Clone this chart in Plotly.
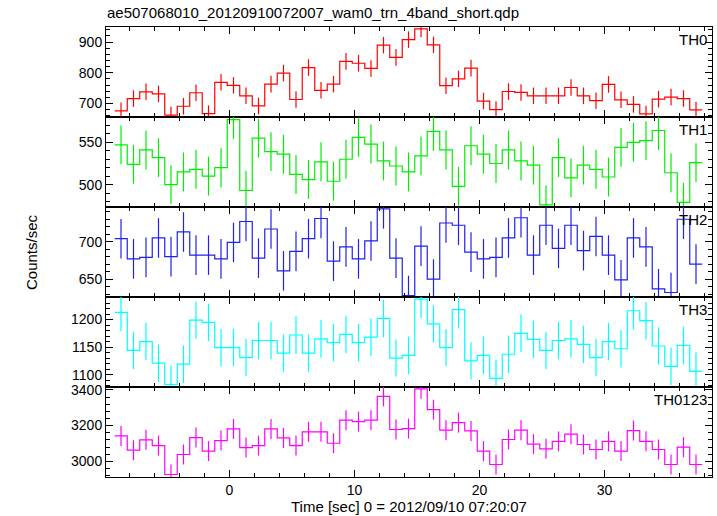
import plotly.graph_objects as go
from plotly.subplots import make_subplots

TITLE = "ae507068010_20120910072007_wam0_trn_4band_short.qdp"
X_TITLE = "Time [sec] 0 = 2012/09/10 07:20:07"
Y_TITLE = "Counts/sec"

BIN_START = -8.68   # centre of first bin [sec]
BIN_WIDTH = 1.0     # [sec]

BANDS = ["TH0", "TH1", "TH2", "TH3", "TH0123"]

TH0 = [676, 716, 738, 731, 662, 691, 735, 667, 769, 759, 725, 692, 763, 799, 713, 817,
       743, 763, 837, 831, 814, 890, 850, 908, 943, 891, 758, 780, 815, 708, 680, 739,
       736, 725, 725, 725, 752, 725, 709, 762, 712, 697, 666, 714, 721, 716, 679]
TH1 = [547, 524, 541, 532, 500, 515, 518, 510, 520, 577, 493, 555, 539, 536, 512, 506,
       527, 504, 530, 556, 548, 528, 522, 515, 534, 563, 541, 498, 546, 536, 525, 541,
       528, 523, 476, 532, 508, 523, 518, 509, 544, 550, 552, 564, 514, 479, 526]
TH2 = [704, 677, 679, 705, 680, 713, 682, 682, 677, 699, 727, 678, 717, 661, 687, 704,
       731, 674, 693, 677, 701, 744, 678, 628, 694, 650, 725, 722, 686, 677, 679, 705,
       732, 682, 722, 691, 722, 688, 707, 682, 649, 705, 693, 637, 632, 730, 670]
TH3 = [1213, 1144, 1160, 1121, 1082, 1119, 1199, 1195, 1149, 1149, 1131, 1162, 1162, 1139, 1172, 1139,
       1165, 1158, 1173, 1158, 1168, 1202, 1130, 1135, 1237, 1192, 1149, 1218, 1125, 1135, 1093, 1137,
       1175, 1164, 1144, 1162, 1165, 1155, 1131, 1160, 1147, 1216, 1198, 1152, 1115, 1153, 1106]
TH0123 = [3142, 3062, 3120, 3088, 2926, 3038, 3133, 3057, 3116, 3181, 3077, 3088, 3181, 3131, 3088, 3165,
          3165, 3101, 3230, 3222, 3230, 3364, 3178, 3183, 3406, 3289, 3174, 3217, 3170, 3057, 2982, 3122,
          3174, 3096, 3070, 3111, 3152, 3094, 3066, 3112, 3057, 3172, 3112, 3066, 2982, 3079, 2982]

# typical half-length of the error bars (counts/sec)
ERRORS = {"TH0": 27, "TH1": 23, "TH2": 26.5, "TH3": 34, "TH0123": 56}
COLORS = {"TH0": "#ff0000", "TH1": "#00ee00", "TH2": "#2020f0", "TH3": "#00ffff", "TH0123": "#ff00ff"}
Y_RANGES = {"TH0": [656, 949], "TH1": [473.5, 580], "TH2": [626, 746.4],
            "TH3": [1077.5, 1241], "TH0123": [2912, 3416]}
Y_TICKS = {"TH0": [700, 800, 900], "TH1": [500, 550], "TH2": [650, 700],
           "TH3": [1100, 1150, 1200], "TH0123": [3000, 3200, 3400]}
Y_MINOR = {"TH0": 20, "TH1": 10, "TH2": 10, "TH3": 10, "TH0123": 40}
X_RANGE = [-9.88, 38.6]
X_TICKS = [0, 10, 20, 30]

SERIES = {"TH0": TH0, "TH1": TH1, "TH2": TH2, "TH3": TH3, "TH0123": TH0123}

FONT = "Liberation Sans, Arial, Helvetica, sans-serif"

fig = make_subplots(rows=5, cols=1, shared_xaxes=True, vertical_spacing=0)

for i, name in enumerate(BANDS, start=1):
    vals = SERIES[name]
    n = len(vals)
    centers = [BIN_START + k * BIN_WIDTH for k in range(n)]
    edges = [c - BIN_WIDTH / 2 for c in centers] + [centers[-1] + BIN_WIDTH / 2]
    col = COLORS[name]
    fig.add_trace(go.Scatter(x=edges, y=vals + [vals[-1]], mode="lines",
                             line=dict(color=col, width=1.2, shape="hv"),
                             hoverinfo="skip", showlegend=False), row=i, col=1)
    fig.add_trace(go.Scatter(x=centers, y=vals, mode="markers",
                             marker=dict(size=0.1, color=col),
                             error_y=dict(type="constant", value=ERRORS[name], color=col,
                                          thickness=1.2, width=0),
                             showlegend=False), row=i, col=1)
    fig.update_yaxes(range=Y_RANGES[name], tickvals=Y_TICKS[name],
                     ticks="inside", ticklen=7, tickcolor="black", tickwidth=1,
                     minor=dict(ticks="inside", ticklen=4, dtick=Y_MINOR[name], tickcolor="black"),
                     showline=True, linecolor="black", linewidth=1, mirror="allticks",
                     showgrid=False, zeroline=False,
                     tickfont=dict(family=FONT, size=14, color="black"),
                     row=i, col=1)
    fig.update_xaxes(range=X_RANGE, tickvals=X_TICKS,
                     ticks="inside", ticklen=7, tickcolor="black", tickwidth=1,
                     minor=dict(ticks="inside", ticklen=4, dtick=2, tick0=0, tickcolor="black"),
                     showline=True, linecolor="black", linewidth=1, mirror="allticks",
                     showgrid=False, zeroline=False,
                     showticklabels=(i == 5),
                     tickfont=dict(family=FONT, size=14, color="black"),
                     row=i, col=1)
    # panel label
    dom = fig.layout["yaxis" if i == 1 else f"yaxis{i}"].domain
    fig.add_annotation(text=name, xref="paper", yref="paper", x=1, y=dom[1],
                       xanchor="right", yanchor="top", xshift=-3, yshift=-2,
                       showarrow=False, font=dict(family=FONT, size=15, color="black"))

fig.add_annotation(text=TITLE, xref="paper", yref="paper", x=0, y=1, xanchor="left",
                   yanchor="bottom", yshift=4, xshift=-1, showarrow=False,
                   font=dict(family=FONT, size=15, color="black"))
fig.add_annotation(text=X_TITLE, xref="paper", yref="paper", x=0.5, y=0, xanchor="center",
                   yanchor="top", yshift=-19, showarrow=False,
                   font=dict(family=FONT, size=15, color="black"))
fig.add_annotation(text=Y_TITLE, xref="paper", yref="paper", x=0, y=0.5, xanchor="center",
                   yanchor="middle", xshift=-75, textangle=-90, showarrow=False,
                   font=dict(family=FONT, size=15, color="black"))

fig.update_layout(width=717, height=516, margin=dict(l=106, r=5, t=27, b=39),
                  plot_bgcolor="white", paper_bgcolor="white", showlegend=False)

fig.write_html("out.html", config={"displayModeBar": False},
               post_script="document.body.style.margin='0';document.body.style.padding='0';document.body.style.overflow='hidden';")
